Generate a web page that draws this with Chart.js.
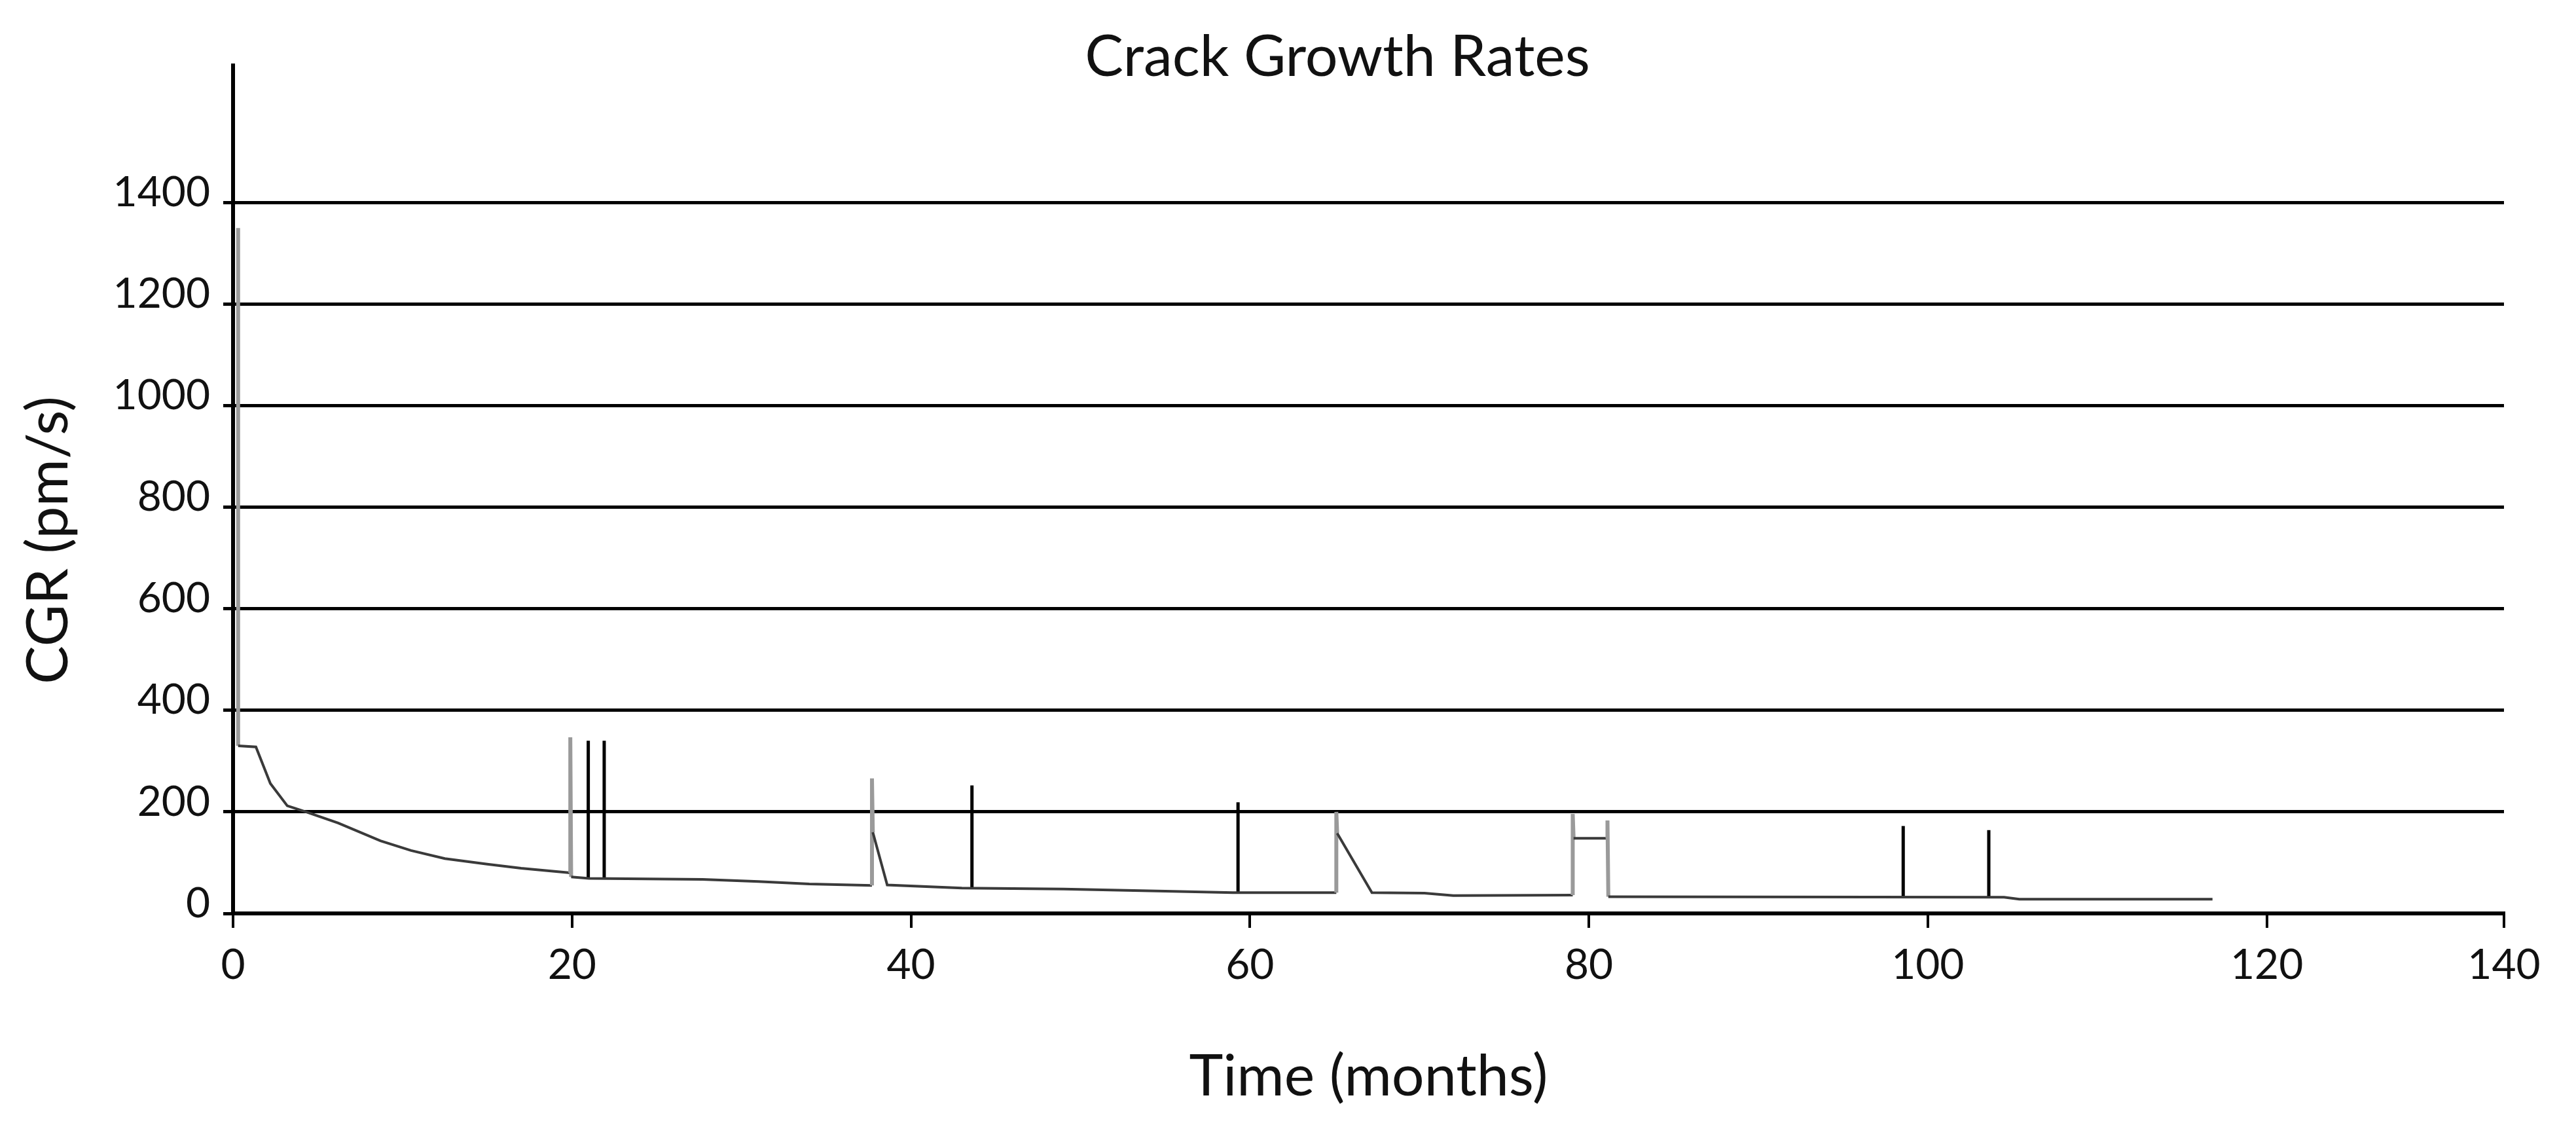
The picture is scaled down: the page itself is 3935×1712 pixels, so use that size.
<!DOCTYPE html>
<html>
<head>
<meta charset="utf-8">
<title>Crack Growth Rates</title>
<script src="https://cdn.jsdelivr.net/npm/chart.js@4"></script>
<style>
  html, body { margin: 0; padding: 0; background: #fff; }
  #wrap { width: 3935px; height: 1712px; }
</style>
</head>
<body>
<div id="wrap"><canvas id="cgrChart"></canvas></div>
<script>
// main CGR trace, months vs pm/s
const cgrTime = [0.3, 0.3, 1.35, 2.2, 3.2, 4.3, 6.2, 8.7, 10.5, 12.5, 15, 17, 19.9, 19.9, 19.95,
  21, 27.7, 31, 34, 37.7, 37.7, 37.75, 38.6, 43, 49, 55, 59, 65.1, 65.1, 65.15, 67.2,
  70.3, 72, 79.05, 79.05, 79.1, 81.1, 81.1, 81.15, 104.5, 105.4, 116.8];
const cgrRate = [1350, 330, 328, 256, 212, 200, 178, 143, 124, 108, 97, 89, 80, 347, 72,
  69, 67, 63, 58, 55, 266, 160, 56, 50, 48, 44, 41, 41, 200, 158, 41,
  40, 35, 36, 196, 148, 148, 183, 33, 32, 28, 28];

// short black pulses
const pulseTime = [20.96, 21.9, 43.6, 59.3, 98.55, 103.6];
const pulseBase = [68, 68, 49, 41, 32, 32];
const pulseTop = [340, 340, 252, 219, 172, 164];

const yTickValues = [0, 200, 400, 600, 800, 1000, 1200, 1400];
const xTickValues = [0, 20, 40, 60, 80, 100, 120];
// the source axis is cut short: its last label sits at the end of the line
const xTickLabels = ['0', '20', '40', '60', '80', '100', '120', '140'];

const FONT = 'Lato';
const INK = '#111';

const cgrData = cgrTime.map((t, i) => ({ x: t, y: cgrRate[i] }));
const pulseData = [];
pulseTime.forEach((t, i) => {
    pulseData.push({ x: t, y: pulseBase[i] }, { x: t, y: pulseTop[i] }, { x: t, y: null });
});

// title and y title are drawn by hand, the source places them off-centre
const chartText = {
    id: 'chartText',
    afterDraw(chart) {
        const { ctx, scales } = chart;
        ctx.save();
        ctx.fillStyle = INK;
        ctx.textAlign = 'center';
        ctx.textBaseline = 'middle';
        ctx.font = `88px ${FONT}`;
        ctx.fillText('Crack Growth Rates', 2043, 88);
        ctx.translate(75, scales.y.getPixelForValue(735));
        ctx.rotate(-Math.PI / 2);
        ctx.fillText('CGR (pm/s)', 0, 0);
        ctx.restore();
    }
};

new Chart(document.getElementById('cgrChart'), {
    type: 'scatter',
    data: {
        datasets: [
            {
                label: 'CGR',
                data: cgrData,
                showLine: true,
                pointRadius: 0,
                borderColor: '#3a3a3a',
                borderWidth: 4,
                segment: {
                    // near-vertical jumps show up lighter in the source
                    borderColor: c => Math.abs(c.p1.x - c.p0.x) < 4 ? '#9a9a9a' : '#3a3a3a',
                    borderWidth: c => Math.abs(c.p1.x - c.p0.x) < 4 ? 6 : 4
                }
            },
            {
                label: 'Pulses',
                data: pulseData,
                showLine: true,
                spanGaps: false,
                pointRadius: 0,
                borderColor: '#000',
                borderWidth: 5
            }
        ]
    },
    options: {
        responsive: true,
        maintainAspectRatio: false,
        animation: false,
        layout: { padding: { top: 100, right: 110, left: 0, bottom: 0 } },
        plugins: {
            legend: { display: false },
            tooltip: { enabled: false }
        },
        scales: {
            x: {
                type: 'linear',
                min: 0,
                max: 134,
                afterBuildTicks: scale => {
                    scale.ticks = xTickValues.map(v => ({ value: v })).concat([{ value: scale.max }]);
                },
                afterFit: scale => { scale.height = 317; },
                ticks: {
                    color: INK,
                    font: { family: FONT, size: 64 },
                    padding: 19,
                    maxRotation: 0,
                    callback: (val, i) => xTickLabels[i]
                },
                grid: {
                    drawOnChartArea: false,
                    drawTicks: true,
                    tickLength: 22,
                    lineWidth: 4,
                    color: '#000'
                },
                border: { display: true, color: '#000', width: 6 },
                title: {
                    display: true,
                    text: 'Time (months)',
                    color: INK,
                    font: { family: FONT, size: 88 },
                    padding: { top: 0, bottom: 15 }
                }
            },
            y: {
                min: 0,
                max: 1670,
                afterBuildTicks: scale => {
                    scale.ticks = yTickValues.map(v => ({ value: v }));
                },
                afterFit: scale => { scale.width = 356; },
                ticks: {
                    color: INK,
                    font: { family: FONT, size: 64 },
                    padding: 20,
                    labelOffset: -15,
                    callback: val => String(val)
                },
                grid: {
                    color: '#000',
                    lineWidth: 5,
                    tickLength: 15
                },
                border: { display: true, color: '#000', width: 6 }
            }
        }
    },
    plugins: [chartText]
});
</script>
</body>
</html>
